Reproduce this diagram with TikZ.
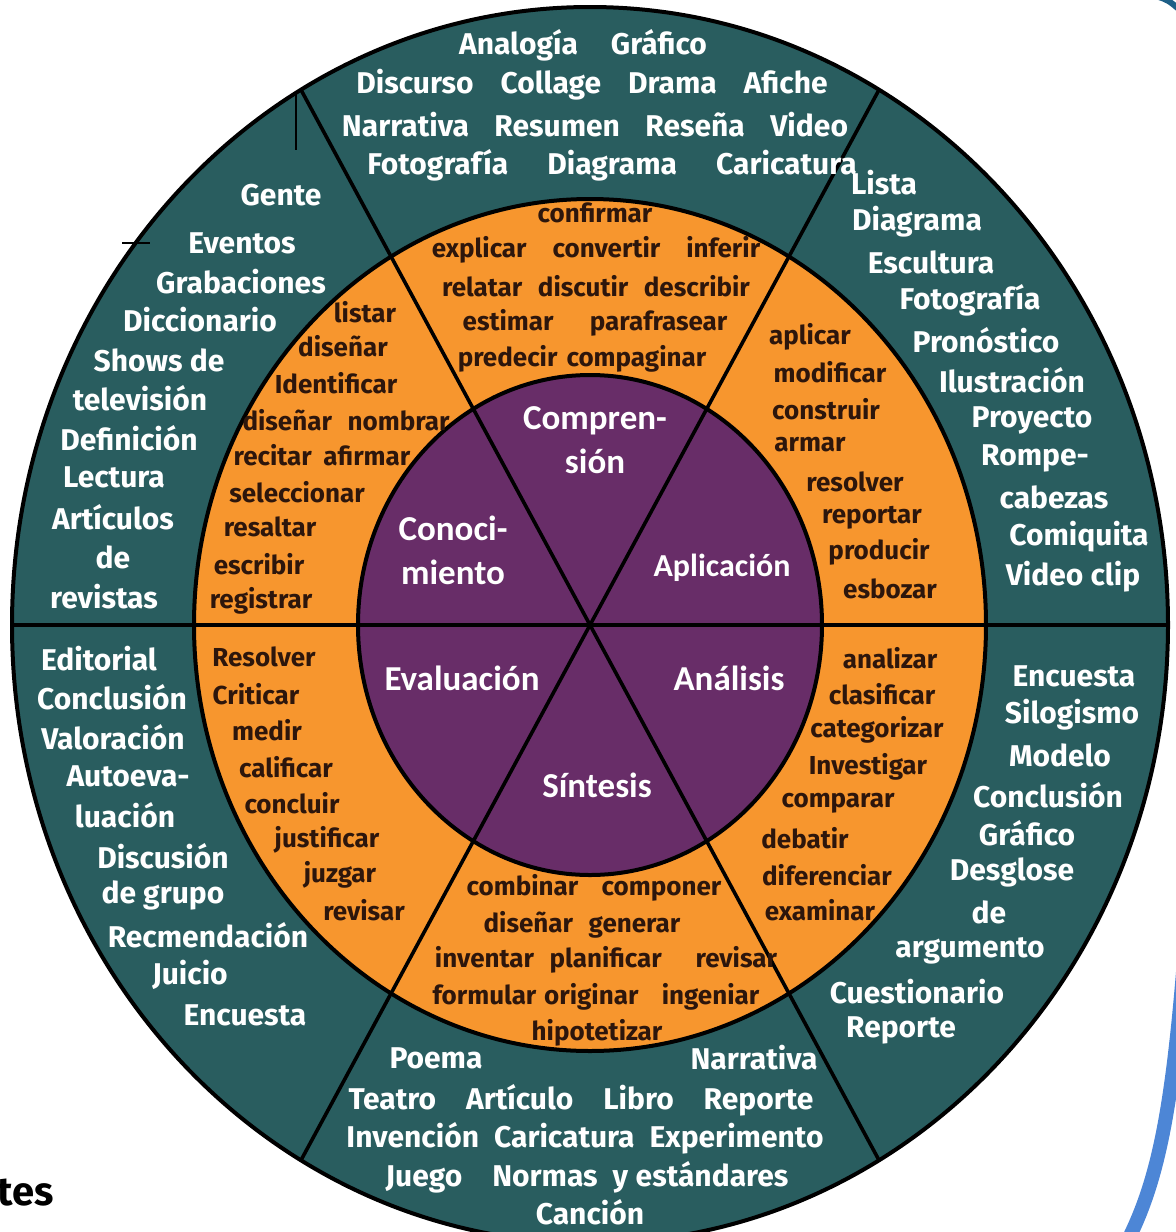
\documentclass[tikz,border=0pt]{standalone}
\usepackage{fontspec}
\setmainfont{Fira Sans}
\newfontfamily\levelfont{Carlito}

\definecolor{wheelteal}{RGB}{41,93,95}
\definecolor{wheelorange}{RGB}{247,150,46}
\definecolor{wheelpurple}{RGB}{104,45,104}
\definecolor{verbbrown}{RGB}{45,22,12}
\definecolor{frameblue}{RGB}{77,134,214}
\definecolor{cornerblue}{RGB}{30,95,135}

\newcommand{\gap}[1]{\hspace{#1em}}

\begin{document}
\begin{tikzpicture}[x=0.5pt, y=-0.5pt,
  outer/.style={text=white, font=\bfseries\fontsize{15}{18}\selectfont,
                inner sep=0pt},
  verb/.style={text=verbbrown, font=\bfseries\fontsize{13}{15}\selectfont,
               inner sep=0pt},
  level/.style={text=white, font=\levelfont\bfseries\fontsize{17.5}{22}\selectfont,
                align=center, inner sep=0pt},
  ring/.style={draw=black, line width=2pt},
  divider/.style={draw=black, line width=1.8pt}
]
\useasboundingbox (0,0) rectangle (1176,1232);
\clip (0,0) rectangle (1176,1232);

% Wheel
\coordinate (hub) at (590,625);
\fill[wheelteal] (hub) ellipse [x radius=578, y radius=618];
\fill[wheelorange] (hub) ellipse [x radius=396, y radius=426];
\fill[wheelpurple] (hub) ellipse [x radius=232, y radius=250];
\draw[ring] (hub) ellipse [x radius=578, y radius=618];
\draw[ring] (hub) ellipse [x radius=396, y radius=426];
\draw[ring] (hub) ellipse [x radius=232, y radius=250];
\begin{scope}[shift={(hub)}]
  \foreach \a in {0,60,120}
    \draw[divider] (\a:578 and 618) -- ({\a+180}:578 and 618);
\end{scope}

% stray marks
\draw[line width=1pt] (296,93) -- (296,150);
\draw[line width=1pt] (122,243) -- (150,243);

% Frame corners
\draw[frameblue, line width=7pt] (1184,960) .. controls (1172,1110) and (1158,1180) .. (1128,1240);
\draw[cornerblue, line width=3pt] (1156,-4) .. controls (1168,0) .. (1180,10);

% Levels
\node[level] (comprension) at (595,440) {Compren-\\sión};
\node[level] (conocimiento) at (453,550) {Conoci-\\miento};
\node[level, font=\levelfont\bfseries\fontsize{16}{20}\selectfont]
  (aplicacion) at (722,568) {Aplicación};
\node[level] (evaluacion) at (462,678) {Evaluación};
\node[level] (analisis) at (729,678) {Análisis};
\node[level] (sintesis) at (597,785) {Síntesis};

% Comprension
\foreach \x/\y/\t [count=\i] in {595/213/confirmar,
    596/250/{explicar\gap{1}convertir\gap{1}inferir},
    596/286/{relatar\gap{0.6}discutir\gap{0.6}describir},
    595/323/{estimar\gap{1.4}parafrasear},
    582/359/{predecir\gap{0.35}compaginar}}
  \node[verb] (comp-v\i) at (\x,\y) {\t};
\foreach \x/\y/\t [count=\i] in {583/45/{Analogía\gap{1.1}Gráfico},
    592/85/{Discurso\gap{0.9}Collage\gap{0.9}Drama\gap{0.9}Afiche},
    595/125/{Narrativa\gap{0.85}Resumen\gap{0.85}Reseña\gap{0.85}Video},
    612/165/{Fotografía\gap{1.3}Diagrama\gap{1.3}Caricatura}}
  \node[outer] (comp-p\i) at (\x,\y) {\t};

% Aplicacion
\foreach \x/\y/\t [count=\i] in {810/337/aplicar, 830/372/modificar,
    826/409/construir, 810/445/armar, 855/482/resolver, 872/518/reportar,
    879/552/producir, 890/589/esbozar}
  \node[verb] (apl-v\i) at (\x,\y) {\t};
\foreach \x/\y/\t [count=\i] in {884/183/Lista, 917/222/Diagrama,
    931/262/Escultura, 970/300/Fotografía, 986/340/Pronóstico,
    1012/380/Ilustración, 1032/420/Proyecto, 1035/458/Rompe-,
    1054/497/cabezas, 1079/537/Comiquita, 1073/577/Video clip}
  \node[outer] (apl-p\i) at (\x,\y) {\t};

% Analisis
\foreach \x/\y/\t [count=\i] in {890/658/analizar, 882/694/clasificar,
    877/730/categorizar, 868/767/Investigar, 838/803/comparar,
    805/838/debatir, 827/875/diferenciar, 820/910/examinar}
  \node[verb] (ana-v\i) at (\x,\y) {\t};
\foreach \x/\y/\t [count=\i] in {1074/676/Encuesta, 1072/715/Silogismo,
    1060/755/Modelo, 1048/795/Conclusión, 1027/833/Gráfico,
    1012/872/Desglose, 989/912/de, 970/951/argumento,
    917/992/Cuestionario, 901/1030/Reporte}
  \node[outer] (ana-p\i) at (\x,\y) {\t};

% Sintesis
\foreach \x/\y/\t [count=\i] in {594/888/{combinar\gap{0.9}componer},
    582/925/{diseñar\gap{0.6}generar},
    606/960/{inventar\gap{0.6}planificar\gap{1.3}revisar},
    596/997/{formular\gap{0.3}originar\gap{0.9}ingeniar},
    597/1033/hipotetizar}
  \node[verb] (sin-v\i) at (\x,\y) {\t};
\foreach \x/\y/\t [count=\i] in {436/1058/Poema, 754/1058/Narrativa,
    581/1100/{Teatro\gap{1}Artículo\gap{1}Libro\gap{1}Reporte},
    585/1138/{Invención\gap{0.5}Caricatura\gap{0.5}Experimento},
    587/1177/{Juego\gap{1}Normas\gap{0.5}y\gap{0.25}estándares},
    590/1212/Canción}
  \node[outer] (sin-p\i) at (\x,\y) {\t};

% Evaluacion
\foreach \x/\y/\t [count=\i] in {264/657/Resolver, 256/694/Criticar,
    267/730/medir, 286/767/calificar, 292/803/concluir,
    327/840/justificar, 340/875/juzgar, 364/910/revisar}
  \node[verb] (eva-v\i) at (\x,\y) {\t};
\foreach \x/\y/\t [count=\i] in {99/659/Editorial, 112/697/Conclusión,
    113/737/Valoración, 128/776/Autoeva-, 125/815/luación,
    163/856/Discusión, 163/895/de grupo, 208/935/Recmendación,
    190/975/Juicio, 245/1015/Encuesta}
  \node[outer] (eva-p\i) at (\x,\y) {\t};

% Conocimiento
\foreach \x/\y/\t [count=\i] in {365/312/listar, 343/346/diseñar,
    336/383/Identificar, 346/420/{diseñar\gap{0.6}nombrar},
    322/455/{recitar\gap{0.45}afirmar}, 297/492/seleccionar, 270/527/resaltar,
    259/564/escribir, 261/601/registrar}
  \node[verb] (con-v\i) at (\x,\y) {\t};
\foreach \x/\y/\t [count=\i] in {281/195/Gente, 242/243/Eventos,
    241/282/Grabaciones, 200/320/Diccionario, 159/360/Shows de,
    140/398/televisión, 129/438/Definición, 114/477/Lectura,
    113/517/Artículos, 113/557/de, 104/597/revistas}
  \node[outer] (con-p\i) at (\x,\y) {\t};

% cut word
\node[anchor=west, inner sep=0pt, font=\bfseries\fontsize{20}{24}\selectfont]
  (cut) at (-3,1193) {tes};
\end{tikzpicture}
\end{document}
